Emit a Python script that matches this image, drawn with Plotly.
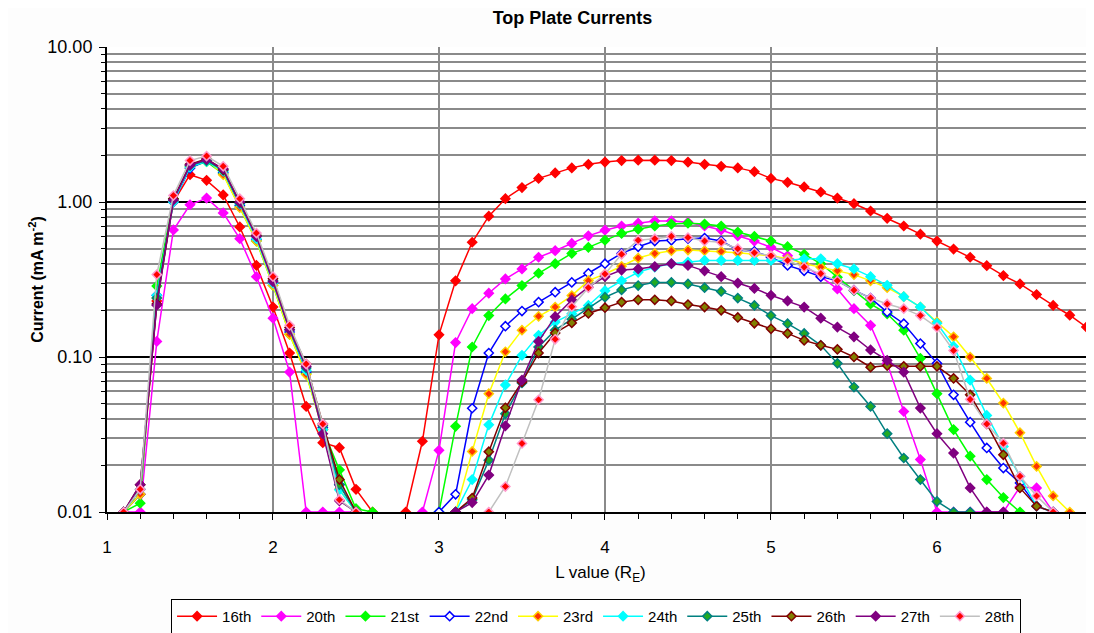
import plotly.graph_objects as go

# L values (Earth radii) for the inner peak and the outer belt
L_INNER = [1.1, 1.2, 1.3, 1.4, 1.5, 1.6, 1.7, 1.8, 1.9, 2.0, 2.1, 2.2, 2.3, 2.4, 2.5, 2.6]
L_OUTER = [2.8, 2.9,
           3.0, 3.1, 3.2, 3.3, 3.4, 3.5, 3.6, 3.7, 3.8, 3.9,
           4.0, 4.1, 4.2, 4.3, 4.4, 4.5, 4.6, 4.7, 4.8, 4.9,
           5.0, 5.1, 5.2, 5.3, 5.4, 5.5, 5.6, 5.7, 5.8, 5.9,
           6.0, 6.1, 6.2, 6.3, 6.4, 6.5, 6.6, 6.7, 6.8, 6.9]

# currents (mA m^-2), None = no value plotted
inner_16th = [0.01, 0.013, 0.23, 1.0, 1.5, 1.38, 1.11, 0.69, 0.39, 0.21, 0.106, 0.048, 0.028, 0.026, 0.014, 0.01]
outer_16th = [0.01, 0.0286,
              0.139, 0.31, 0.55, 0.81, 1.05, 1.24, 1.42, 1.54, 1.66, 1.75,
              1.81, 1.85, 1.86, 1.86, 1.85, 1.81, 1.75, 1.70, 1.66, 1.57,
              1.42, 1.34, 1.25, 1.16, 1.06, 0.975, 0.875, 0.785, 0.70, 0.62,
              0.56, 0.497, 0.44, 0.388, 0.335, 0.296, 0.253, 0.215, 0.186, 0.156]

inner_20th = [0.01, 0.01, 0.126, 0.66, 0.96, 1.06, 0.85, 0.58, 0.33, 0.178, 0.08, 0.01, 0.01, 0.01, 0.01, None]
outer_20th = [None, 0.01,
              0.025, 0.124, 0.205, 0.258, 0.319, 0.37, 0.44, 0.485, 0.54, 0.605,
              0.658, 0.70, 0.73, 0.755, 0.755, 0.74, 0.70, 0.66, 0.605, 0.56,
              0.51, 0.45, 0.39, 0.33, 0.275, 0.205, 0.16, 0.091, 0.0445, 0.0218,
              0.01, 0.01, 0.01, 0.01, 0.01, 0.0145, 0.0143, 0.01, None, None]

inner_21st = [0.01, 0.0114, 0.287, 1.05, 1.68, 1.82, 1.52, 0.93, 0.56, 0.29, 0.14, 0.078, 0.034, 0.0187, 0.0105, 0.01]
outer_21st = [None, None,
              0.01, 0.0357, 0.116, 0.185, 0.237, 0.289, 0.347, 0.40, 0.466, 0.51,
              0.567, 0.627, 0.668, 0.70, 0.72, 0.73, 0.72, 0.70, 0.64, 0.60,
              0.56, 0.515, 0.46, 0.40, 0.327, 0.268, 0.22, 0.19, 0.149, 0.098,
              0.058, 0.034, 0.0229, 0.0162, 0.0124, 0.01, None, None, None, None]

inner_22nd = [0.01, 0.013, 0.25, 1.0, 1.65, 1.85, 1.55, 0.95, 0.57, 0.30, 0.145, 0.08, 0.035, 0.015, 0.01, None]
outer_22nd = [None, None,
              0.01, 0.013, 0.0467, 0.106, 0.158, 0.198, 0.226, 0.262, 0.303, 0.347,
              0.40, 0.466, 0.514, 0.56, 0.566, 0.58, 0.585, 0.56, 0.49, 0.48,
              0.44, 0.39, 0.36, 0.33, 0.31, 0.27, 0.24, 0.195, 0.164, 0.122,
              0.091, 0.057, 0.038, 0.0259, 0.0192, 0.0154, 0.0109, 0.01, None, None]

inner_23rd = [0.01, 0.013, 0.24, 1.02, 1.7, 1.88, 1.50, 0.92, 0.56, 0.29, 0.14, 0.077, 0.034, 0.014, 0.01, None]
outer_23rd = [None, None,
              None, 0.01, 0.0246, 0.058, 0.108, 0.149, 0.183, 0.21, 0.249, 0.311,
              0.343, 0.385, 0.435, 0.466, 0.485, 0.49, 0.485, 0.48, 0.47, 0.46,
              0.45, 0.43, 0.40, 0.38, 0.36, 0.34, 0.31, 0.28, 0.245, 0.21,
              0.168, 0.135, 0.10, 0.0727, 0.0504, 0.0325, 0.0197, 0.0127, 0.01, None]

inner_24th = [0.01, 0.014, 0.25, 1.0, 1.68, 1.83, 1.58, 0.97, 0.58, 0.30, 0.15, 0.082, 0.034, 0.0139, 0.01, None]
outer_24th = [None, None,
              None, 0.01, 0.0162, 0.0365, 0.066, 0.1025, 0.138, 0.168, 0.19, 0.215,
              0.268, 0.31, 0.352, 0.38, 0.40, 0.41, 0.42, 0.42, 0.42, 0.42,
              0.42, 0.42, 0.43, 0.43, 0.40, 0.37, 0.33, 0.29, 0.245, 0.21,
              0.165, 0.117, 0.071, 0.042, 0.0265, 0.017, 0.0109, 0.01, None, None]

inner_25th = [0.01, 0.014, 0.24, 1.03, 1.72, 1.85, 1.6, 0.98, 0.60, 0.31, 0.15, 0.085, 0.036, 0.015, 0.01, None]
outer_25th = [None, None,
              None, 0.01, 0.012, 0.0216, 0.043, 0.068, 0.116, 0.149, 0.175, 0.205,
              0.243, 0.271, 0.289, 0.303, 0.303, 0.296, 0.28, 0.265, 0.24, 0.215,
              0.185, 0.164, 0.142, 0.119, 0.091, 0.064, 0.048, 0.032, 0.0223, 0.0162,
              0.0117, 0.01, 0.01, None, None, None, None, None, None, None]

inner_26th = [0.01, 0.015, 0.22, 1.05, 1.75, 1.9, 1.62, 1.0, 0.61, 0.32, 0.155, 0.09, 0.037, 0.0162, 0.01, None]
outer_26th = [None, None,
              None, 0.01, 0.0123, 0.0245, 0.047, 0.069, 0.106, 0.143, 0.166, 0.191,
              0.208, 0.226, 0.234, 0.234, 0.23, 0.218, 0.21, 0.20, 0.18, 0.165,
              0.152, 0.142, 0.128, 0.119, 0.112, 0.10, 0.086, 0.088, 0.087, 0.087,
              0.087, 0.0728, 0.057, 0.037, 0.0234, 0.0143, 0.0109, 0.01, None, None]

inner_27th = [0.01, 0.015, 0.216, 1.03, 1.73, 1.88, 1.64, 1.0, 0.60, 0.306, 0.15, 0.087, 0.032, 0.0118, 0.01, None]
outer_27th = [None, None,
              None, 0.01, 0.0115, 0.0173, 0.036, 0.071, 0.126, 0.182, 0.233, 0.282,
              0.33, 0.364, 0.37, 0.383, 0.40, 0.39, 0.36, 0.33, 0.30, 0.277,
              0.25, 0.23, 0.21, 0.178, 0.156, 0.135, 0.111, 0.095, 0.08, 0.0468,
              0.032, 0.024, 0.0143, 0.01, 0.01, None, None, None, None, None]

inner_28th = [0.01, 0.014, 0.34, 1.1, 1.85, 1.98, 1.7, 1.05, 0.63, 0.33, 0.16, 0.09, 0.037, 0.012, 0.01, None]
outer_28th = [None, None,
              None, None, None, 0.01, 0.0146, 0.0277, 0.053, 0.13, 0.211, 0.28,
              0.343, 0.46, 0.567, 0.58, 0.60, 0.59, 0.56, 0.55, 0.50, 0.47,
              0.45, 0.42, 0.38, 0.345, 0.31, 0.27, 0.24, 0.22, 0.205, 0.185,
              0.155, 0.11, 0.0533, 0.037, 0.0278, 0.017, 0.0127, 0.01, None, None]

SERIES = [
    ("16th", inner_16th, outer_16th),
    ("20th", inner_20th, outer_20th),
    ("21st", inner_21st, outer_21st),
    ("22nd", inner_22nd, outer_22nd),
    ("23rd", inner_23rd, outer_23rd),
    ("24th", inner_24th, outer_24th),
    ("25th", inner_25th, outer_25th),
    ("26th", inner_26th, outer_26th),
    ("27th", inner_27th, outer_27th),
    ("28th", inner_28th, outer_28th),
]

# line colour, marker fill, marker outline
STYLES = {
    "16th": ("#ff0000", "#ff0000", "#ff0000"),
    "20th": ("#ff00ff", "#ff00ff", "#ff00ff"),
    "21st": ("#00ff00", "#00ff00", "#00ff00"),
    "22nd": ("#0000ff", "#ffffff", "#0000ff"),
    "23rd": ("#ffff00", "#ff3300", "#ffcc00"),
    "24th": ("#00ffff", "#00ffff", "#00ffff"),
    "25th": ("#008080", "#22aa22", "#008080"),
    "26th": ("#800000", "#808000", "#800000"),
    "27th": ("#800080", "#800080", "#800080"),
    "28th": ("#c0c0c0", "#ff0000", "#ff99cc"),
}

x_all = L_INNER + [None] + L_OUTER

fig = go.Figure()
for name, inner, outer in SERIES:
    line_col, fill, edge = STYLES[name]
    fig.add_trace(
        go.Scatter(
            x=x_all,
            y=inner + [None] + outer,
            mode="lines+markers",
            name=name,
            line=dict(color=line_col, width=1.5),
            marker=dict(symbol="diamond", size=7, color=fill,
                        line=dict(color=edge, width=1.5)),
            connectgaps=False,
        )
    )

minor_y = [m * 10 ** e for e in (-2, -1, 0) for m in range(2, 10)]

# the page body adds an 8px offset, margins are set to compensate
fig.update_layout(
    width=1094,
    height=633,
    margin=dict(l=99, r=8, t=39, b=129, autoexpand=False),
    paper_bgcolor="#fdfdfd",
    plot_bgcolor="white",
    font=dict(family="Arial, Liberation Sans, sans-serif", size=17, color="black"),
    title=dict(text="<b>Top Plate Currents</b>", x=0.516, xref="container",
               y=0.984, yref="container", yanchor="middle", font=dict(size=18)),
    showlegend=True,
    legend=dict(
        orientation="h",
        x=0.4955, xanchor="center",
        y=-0.187, yanchor="top",
        bordercolor="black", borderwidth=1, bgcolor="white",
        font=dict(size=15),
        tracegroupgap=0, itemwidth=40,
    ),
    xaxis=dict(
        range=[1, 6.946],
        tickvals=[1, 2, 3, 4, 5, 6],
        ticks="outside", ticklen=6, tickcolor="black", tickwidth=1,
        ticklabelstandoff=13,
        showline=True, linecolor="black", linewidth=2,
        showgrid=True, gridcolor="#8a8a8a", gridwidth=1.5,
        zeroline=False,
        minor=dict(tickvals=[1.2, 1.4, 1.6, 1.8, 2.2, 2.4, 2.6, 2.8, 3.2, 3.4, 3.6, 3.8,
                             4.2, 4.4, 4.6, 4.8, 5.2, 5.4, 5.6, 5.8, 6.2, 6.4, 6.6, 6.8],
                   ticks="outside", ticklen=5, tickcolor="black", showgrid=False),
        title=dict(text="L value (R<sub>E</sub>)", font=dict(size=17), standoff=10),
    ),
    yaxis=dict(
        type="log",
        range=[-2, 1],
        tickvals=[0.01, 0.1, 1, 10],
        ticktext=["0.01", "0.10", "1.00", "10.00"],
        ticks="outside", ticklen=6, tickcolor="black", tickwidth=1,
        ticklabelstandoff=3,
        showline=True, linecolor="black", linewidth=2,
        showgrid=True, gridcolor="black", gridwidth=2,
        zeroline=False,
        minor=dict(tickvals=minor_y, ticks="outside", ticklen=4, tickcolor="black",
                   showgrid=True, gridcolor="#8a8a8a", gridwidth=1.5),
        title=dict(text="<b>Current (mA m<sup>-2</sup>)</b>", font=dict(size=16), standoff=0),
        tickfont=dict(size=18),
    ),
)

fig.write_html("out.html")
